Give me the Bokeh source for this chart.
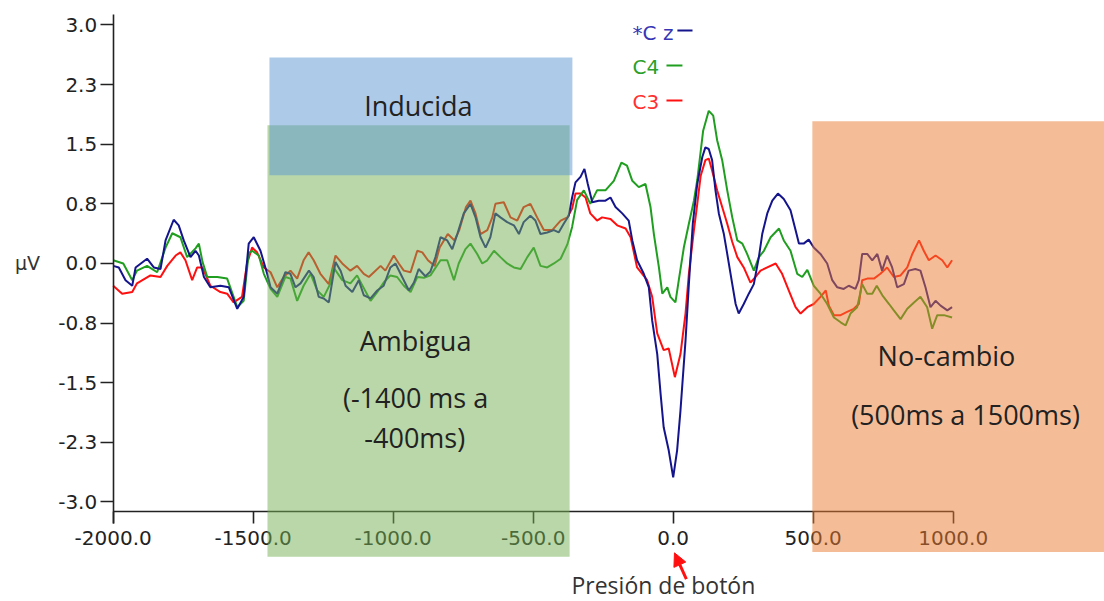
from bokeh.plotting import figure
from bokeh.models import Range1d, LinearAxis, FixedTicker, Arrow, NormalHead
from bokeh.core.properties import value
from bokeh.embed import file_html
from bokeh.resources import INLINE

# ---------------- data (time in ms, amplitude in µV) ----------------
cz_t = [-2000, -1980, -1956, -1932, -1920, -1879, -1855, -1831, -1813, -1784,
        -1766, -1748, -1724, -1706, -1694, -1676, -1653, -1617, -1587, -1557,
        -1534, -1516, -1498, -1474, -1450, -1438, -1414, -1385, -1367, -1349,
        -1331, -1301, -1284, -1266, -1248, -1230, -1206, -1188, -1170, -1146,
        -1123, -1105, -1081, -1057, -1034, -1010, -992, -968, -944, -926,
        -909, -885, -867, -849, -831, -807, -789, -771, -748, -724,
        -706, -688, -670, -653, -635, -617, -593, -569, -551, -534,
        -510, -492, -474, -450, -426, -409, -391, -373, -361, -349,
        -331, -317, -305, -289, -266, -242, -224, -206, -182, -159,
        -146, -129, -105, -87, -75, -57, -45, -34, -16, 0,
        14, 26, 44, 56, 70, 86, 104, 115, 127, 139,
        151, 163, 181, 193, 211, 223, 234, 252, 270, 288,
        306, 318, 336, 354, 374, 395, 419, 437, 449, 466,
        484, 502, 526, 550, 568, 586, 609, 627, 651, 663,
        675, 693, 711, 729, 746, 764, 782, 800, 824, 841,
        865, 883, 901, 919, 937, 955, 979, 996]
cz_v = [-0.03, -0.05, -0.21, -0.28, -0.05, 0.06, -0.05, -0.07, 0.29, 0.55,
        0.48, 0.29, 0.08, 0.16, 0.10, -0.17, -0.30, -0.28, -0.30, -0.57,
        -0.42, 0.25, 0.33, 0.16, -0.13, -0.30, -0.38, -0.11, -0.13, -0.30,
        -0.25, -0.09, -0.17, -0.42, -0.44, -0.49, 0.02, -0.09, -0.28, -0.36,
        -0.21, -0.40, -0.44, -0.34, -0.28, -0.05, 0.0, -0.17, -0.34, -0.24,
        -0.07, -0.16, -0.10, 0.08, 0.33, 0.29, 0.18, 0.37, 0.63, 0.75,
        0.58, 0.33, 0.20, 0.33, 0.63, 0.58, 0.52, 0.48, 0.37, 0.52,
        0.60, 0.54, 0.37, 0.39, 0.42, 0.39, 0.50, 0.60, 0.83, 1.02,
        1.09, 1.19, 1.0, 0.77, 0.79, 0.79, 0.83, 0.71, 0.63, 0.54,
        0.29, 0.04, -0.13, -0.30, -0.72, -1.14, -1.64, -2.06, -2.35, -2.69,
        -2.35, -1.85, -0.97, -0.26, 0.5, 1.0, 1.34, 1.46, 1.44, 1.30,
        0.92, 0.63, 0.37, 0.12, -0.26, -0.51, -0.63, -0.51, -0.38, -0.26,
        0.08, 0.37, 0.63, 0.79, 0.88, 0.81, 0.67, 0.42, 0.25, 0.25,
        0.30, 0.20, 0.12, 0.0, -0.21, -0.30, -0.32, -0.28, -0.32, -0.21,
        0.12, 0.12, 0.04, 0.12, -0.09, 0.10, -0.05, -0.30, -0.26, -0.09,
        -0.07, -0.09, -0.30, -0.55, -0.47, -0.53, -0.59, -0.55]

c4_t = [-2000, -1964, -1932, -1915, -1879, -1843, -1813, -1789, -1760, -1736,
        -1706, -1694, -1681, -1664, -1628, -1593, -1557, -1534, -1516, -1504,
        -1480, -1462, -1438, -1414, -1385, -1367, -1343, -1320, -1295, -1271,
        -1248, -1224, -1213, -1182, -1153, -1129, -1105, -1081, -1057, -1034,
        -1010, -986, -962, -938, -914, -890, -867, -831, -807, -783,
        -766, -742, -724, -700, -682, -664, -640, -617, -593, -569,
        -545, -521, -498, -474, -450, -426, -402, -378, -361, -343,
        -319, -296, -272, -242, -212, -185, -165, -146, -123, -99,
        -81, -69, -51, -39, -21, -10, 8, 20, 38, 56,
        74, 86, 107, 127, 143, 157, 175, 193, 211, 229,
        247, 264, 288, 306, 324, 348, 378, 395, 419, 443,
        461, 479, 502, 526, 550, 574, 598, 616, 633, 657,
        675, 693, 711, 727, 747, 771, 788, 812, 836, 860,
        883, 907, 925, 943, 967, 996]
c4_v = [0.04, 0.0, -0.21, -0.09, -0.03, -0.11, 0.2, 0.38, 0.33, 0.08,
        0.19, 0.25, 0.02, -0.17, -0.17, -0.19, -0.55, -0.47, 0.13, 0.16,
        0.10, -0.13, -0.32, -0.42, -0.17, -0.19, -0.47, -0.28, -0.13, -0.34,
        -0.42, -0.25, -0.05, -0.21, -0.25, -0.15, -0.31, -0.47, -0.36, -0.24,
        -0.15, -0.17, -0.28, -0.36, -0.17, -0.18, -0.15, 0.04, 0.04, -0.21,
        0.0, 0.18, 0.25, 0.12, 0.0, 0.04, 0.16, 0.08, 0.0, -0.05,
        -0.07, 0.08, 0.2, -0.03, -0.05, 0.0, 0.06, 0.24, 0.46, 0.8,
        0.92, 0.75, 0.92, 0.92, 1.04, 1.27, 1.23, 1.04, 0.96, 1.0,
        0.71, 0.37, -0.05, -0.38, -0.30, -0.42, -0.49, -0.21, 0.20, 0.50,
        0.79, 1.05, 1.67, 1.92, 1.86, 1.55, 1.30, 0.92, 0.58, 0.29,
        0.25, 0.12, -0.09, 0.08, 0.16, 0.33, 0.44, 0.29, 0.16, -0.13,
        -0.17, -0.08, -0.28, -0.38, -0.51, -0.68, -0.74, -0.78, -0.63, -0.55,
        -0.26, -0.38, -0.38, -0.28, -0.40, -0.51, -0.59, -0.70, -0.57, -0.49,
        -0.42, -0.55, -0.82, -0.65, -0.65, -0.68]

c3_t = [-2000, -1968, -1932, -1915, -1867, -1831, -1807, -1777, -1760, -1742,
        -1718, -1700, -1681, -1653, -1617, -1593, -1570, -1540, -1522, -1504,
        -1486, -1462, -1438, -1414, -1391, -1367, -1343, -1320, -1302, -1284,
        -1260, -1230, -1206, -1182, -1153, -1129, -1105, -1087, -1069, -1045,
        -1028, -998, -980, -962, -938, -914, -896, -876, -852, -834,
        -805, -781, -764, -740, -724, -706, -688, -664, -646, -635,
        -605, -581, -557, -534, -510, -486, -462, -432, -402, -378,
        -361, -349, -331, -313, -296, -272, -254, -224, -200, -170,
        -152, -129, -93, -75, -57, -34, -16, 6, 26, 44,
        56, 74, 86, 98, 115, 127, 139, 157, 175, 193,
        211, 229, 252, 276, 294, 312, 336, 366, 389, 413,
        437, 455, 479, 502, 526, 545, 556, 574, 598, 621,
        645, 663, 675, 693, 717, 740, 764, 788, 812, 836,
        854, 878, 895, 913, 937, 961, 979, 996]
c3_v = [-0.28, -0.38, -0.36, -0.25, -0.15, -0.17, -0.03, 0.10, 0.14, 0.04,
        -0.21, -0.05, -0.05, -0.28, -0.36, -0.38, -0.49, -0.42, 0.0, 0.2,
        0.14, -0.05, -0.11, -0.30, -0.17, -0.09, -0.19, 0.04, 0.14, 0.04,
        -0.13, -0.26, 0.10, 0.0, -0.09, -0.03, -0.13, -0.17, -0.11, -0.03,
        -0.09, 0.10, 0.0, -0.09, -0.11, 0.16, 0.14, 0.04, -0.03, 0.2,
        0.37, 0.29, 0.42, 0.71, 0.79, 0.63, 0.37, 0.42, 0.58, 0.75,
        0.77, 0.58, 0.54, 0.71, 0.75, 0.58, 0.42, 0.42, 0.54, 0.58,
        0.69, 0.88, 0.88, 0.83, 0.63, 0.54, 0.58, 0.56, 0.48, 0.44,
        0.33, -0.05, -0.21, -0.42, -0.88, -1.09, -1.07, -1.43, -1.14, -0.63,
        -0.13, 0.42, 0.75, 1.10, 1.30, 1.32, 1.17, 0.92, 0.71, 0.50,
        0.27, 0.08, -0.05, -0.24, -0.17, -0.09, -0.05, 0.0, -0.13, -0.34,
        -0.55, -0.63, -0.55, -0.51, -0.42, -0.34, -0.53, -0.65, -0.65, -0.61,
        -0.57, -0.51, -0.21, -0.19, -0.19, -0.13, -0.05, -0.17, -0.15, -0.05,
        0.12, 0.29, 0.16, 0.04, 0.10, 0.04, -0.05, 0.04]

channel_names = ["*C z", "C4", "C3"]
channel_colors = ["#14148c", "#1f9e1f", "#ff1010"]

x_ticks = [-2000, -1500, -1000, -500, 0, 500, 1000]
x_tick_labels = ["-2000.0", "-1500.0", "-1000.0", "-500.0", "0.0", "500.0", "1000.0"]
y_ticks = [3.0, 2.25, 1.5, 0.75, 0.0, -0.75, -1.5, -2.25, -3.0]
y_tick_labels = ["3.0", "2.3", "1.5", "0.8", "0.0", "-0.8", "-1.5", "-2.3", "-3.0"]

# shaded analysis windows (drawn order: green, blue, orange)
region_left = [-1449, -1442, 497]
region_right = [-370, -360, 1560]
region_top = [1.74, 2.59, 1.79]
region_bottom = [-3.69, 1.11, -3.63]
region_colors = ["#73af51", "#5b97d3", "#eb7b2f"]

region_text = ["Inducida", "Ambigua", "(-1400 ms a", "-400ms)", "No-cambio", "(500ms a 1500ms)"]
region_text_x = [-910, -920, -920, -923, 976, 1044]
region_text_y = [1.99, -0.97, -1.69, -2.19, -1.16, -1.90]

# ---------------- figure ----------------
p = figure(width=1104, height=601, x_range=Range1d(-2402.5, 1540.4), y_range=Range1d(-4.252, 3.308),
           output_backend="svg", toolbar_location=None, x_axis_location=None, y_axis_location=None,
           min_border=0)
p.outline_line_color = None
p.grid.visible = False
p.background_fill_color = "white"
p.border_fill_color = "white"

# axes
xax = LinearAxis(fixed_location=-3.12, bounds=(-2000, 1000), ticker=FixedTicker(ticks=x_ticks),
                 major_label_overrides=dict(zip(x_ticks, x_tick_labels)))
yax = LinearAxis(fixed_location=-2000, bounds=(-3.27, 3.13), ticker=FixedTicker(ticks=y_ticks),
                 major_label_overrides=dict(zip(y_ticks, y_tick_labels)))
for ax in (xax, yax):
    ax.axis_line_color = "#222222"
    ax.axis_line_width = 1.6
    ax.major_tick_line_color = "#222222"
    ax.major_tick_line_width = 1.6
    ax.major_tick_in = 0
    ax.minor_tick_line_color = None
    ax.major_label_text_font = "DejaVu Sans"
    ax.major_label_text_font_size = "20px"
    ax.major_label_text_color = "#222222"
xax.major_tick_out = 12
xax.major_label_standoff = 7
yax.major_tick_out = 13
yax.major_label_standoff = 3
p.add_layout(xax, "below")
p.add_layout(yax, "left")

# µV label
p.text(x=[-2306], y=[0.0], text=["μV"], text_font=value("DejaVu Sans"), text_font_size="19px",
       text_color="#333333", text_align="center", text_baseline="middle")

# EEG traces (C3 first, Cz on top)
p.line(c3_t, c3_v, line_color=channel_colors[2], line_width=2)
p.line(c4_t, c4_v, line_color=channel_colors[1], line_width=2)
p.line(cz_t, cz_v, line_color=channel_colors[0], line_width=2)

# translucent windows over traces and axes
p.quad(left=region_left, right=region_right, top=region_top, bottom=region_bottom,
       fill_color=region_colors, fill_alpha=0.5, line_color=None, level="overlay")

p.text(x=region_text_x, y=region_text_y, text=region_text, text_font=value("Open Sans"),
       text_font_size="27px", text_color="#222222", text_align="center", text_baseline="middle",
       level="overlay")

# legend (text + short dash)
leg_x = [-145, -145, -145]
leg_y = [2.90, 2.47, 2.03]
p.text(x=leg_x, y=leg_y, text=channel_names, text_font=value("DejaVu Sans"), text_font_size="20px",
       text_color=["#3535b5", "#2aa02a", "#ff3030"], text_align="left", text_baseline="middle")
p.segment(x0=[15, -24, -24], y0=[2.93, 2.49, 2.05], x1=[69, 33, 33], y1=[2.93, 2.49, 2.05],
          line_color=channel_colors, line_width=2)

# button press marker
p.add_layout(Arrow(end=NormalHead(size=13, fill_color="#ff1010", line_color="#ff1010"),
                   x_start=47, y_start=-3.97, x_end=4.6, y_end=-3.64,
                   line_color="#ff1010", line_width=3))
p.text(x=[-35], y=[-4.04], text=["Presión de botón"], text_font=value("Open Sans"),
       text_font_size="23px", text_color="#333333", text_align="center", text_baseline="middle")

open("out.html", "w").write(file_html(p, INLINE))
